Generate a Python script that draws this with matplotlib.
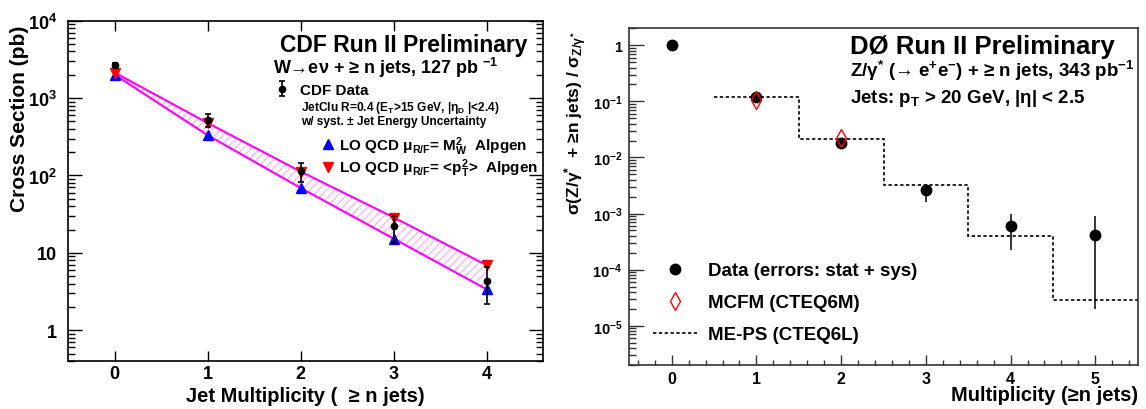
import numpy as np
import matplotlib
matplotlib.use('Agg')
import matplotlib.pyplot as plt
from matplotlib.ticker import LogLocator, FuncFormatter, NullFormatter, MultipleLocator
from matplotlib.lines import Line2D

plt.rcParams['font.family'] = ['Liberation Sans', 'DejaVu Sans']
plt.rcParams['font.weight'] = 'bold'
plt.rcParams['axes.labelweight'] = 'bold'
plt.rcParams['mathtext.fontset'] = 'custom'
plt.rcParams['mathtext.rm'] = 'Liberation Sans:bold'
plt.rcParams['mathtext.it'] = 'Liberation Sans:bold'
plt.rcParams['mathtext.bf'] = 'Liberation Sans:bold'
plt.rcParams['mathtext.sf'] = 'Liberation Sans:bold'
plt.rcParams['hatch.linewidth'] = 0.7

# CDF: W -> e nu + >= n jets, cross section (pb)
n_cdf = [0, 1, 2, 3, 4]
cdf_data = [2700, 515, 113, 22.3, 4.3]
cdf_err_lo = [150, 92, 30, 9.0, 2.1]
cdf_err_hi = [150, 115, 31, 7.7, 2.2]
alpgen_mw = [2000, 330, 68.7, 15.2, 3.36]
alpgen_pt = [2130, 475, 112, 28.6, 6.9]
cdf_yticks = [1, 10, 100, 1000, 10000]

# D0: Z/gamma* + >= n jets, ratio to inclusive
n_d0 = [0, 1, 2, 3, 4, 5]
d0_ratio = [1.0, 0.118, 0.018, 0.0026, 6.0e-4, 4.1e-4]
d0_err_lo = [0.0, 0.008, 0.003, 0.001, 3.8e-4, 3.9e-4]
d0_err_hi = [0.0, 0.008, 0.003, 0.0008, 4.0e-4, 5.0e-4]
n_mcfm = [1, 2]
mcfm = [0.105, 0.022]
meps_edges = [0.5, 1.5, 2.5, 3.5, 4.5, 5.5]
meps = [0.119, 0.021, 0.0032, 4.0e-4, 2.9e-5]
d0_yticks = [1e-5, 1e-4, 1e-3, 1e-2, 1e-1, 1]


def root_log_label(v, pos):
    e = int(round(np.log10(v)))
    if e == 0:
        return '1'
    if e == 1:
        return '10'
    return '$10^{%d}$' % e


fig = plt.figure(figsize=(11.46, 4.10), dpi=100)
W, H = 1146.0, 410.0
axL = fig.add_axes([68.3 / W, 1 - 362 / H, (542.7 - 68.3) / W, (362 - 21.7) / H])
axR = fig.add_axes([629.3 / W, 1 - 366 / H, (1137.7 - 629.3) / W, (366 - 29.3) / H])

# ---------------- left panel (CDF)
axL.fill_between(n_cdf, alpgen_mw, alpgen_pt, facecolor='none', edgecolor='#ffa0ff',
                 hatch='////', linewidth=0)
axL.plot(n_cdf, alpgen_mw, color='#ff00ff', lw=1.5)
axL.plot(n_cdf, alpgen_pt, color='#ff00ff', lw=1.5)
h_mw, = axL.plot(n_cdf, alpgen_mw, '^', color='#0000ff', ms=7, ls='none')
h_pt, = axL.plot(n_cdf, alpgen_pt, 'v', color='#ff0000', ms=7, ls='none')
h_cdf = axL.errorbar(n_cdf, cdf_data, yerr=[cdf_err_lo, cdf_err_hi], fmt='o', color='black',
                     ms=4.5, capsize=2.5, elinewidth=1.2, capthick=1.2)

axL.set_yscale('log')
axL.set_xlim(-0.5, 4.6)
axL.set_ylim(0.4, 1e4)
axL.set_xticks(n_cdf)
axL.set_yticks(cdf_yticks)
axL.yaxis.set_minor_locator(LogLocator(base=10, subs=np.arange(2, 10), numticks=10))
axL.yaxis.set_major_formatter(FuncFormatter(root_log_label))
axL.yaxis.set_minor_formatter(NullFormatter())
axL.tick_params(which='both', direction='in', top=True, right=True, labelsize=13, width=1)
axL.tick_params(axis='y', which='major', length=10, pad=8)
axL.tick_params(axis='y', which='minor', length=5)
axL.tick_params(axis='x', which='major', length=7, pad=3)
for s in axL.spines.values():
    s.set_linewidth(1.2)

axL.set_ylabel('Cross Section (pb)', fontsize=15)
axL.yaxis.set_label_coords(-0.083, 0.714)
axL.set_xlabel('Jet Multiplicity (  ≥ n jets)', fontsize=14.5)
axL.xaxis.set_label_coords(0.5, -0.072)

axL.text(0.967, 0.912, 'CDF Run II Preliminary', transform=axL.transAxes,
         ha='right', va='baseline', fontsize=16.5)
axL.text(0.4315, 0.845, 'W→eν + ≥ n jets, 127 pb $^{-1}$', transform=axL.transAxes,
         va='baseline', fontsize=13)
axL.text(0.49, 0.7376, 'JetClu R=0.4 (E$_{T}$>15 GeV, |η$_{D}$ |<2.4)', transform=axL.transAxes,
         va='baseline', fontsize=8.6)
axL.text(0.49, 0.6979, 'w/ syst. ± Jet Energy Uncertainty', transform=axL.transAxes,
         va='baseline', fontsize=8.6)

leg1 = axL.legend([h_cdf], ['CDF Data'], loc='upper left', bbox_to_anchor=(0.4336, 0.817),
                  frameon=False, fontsize=11, handlelength=1.0, handletextpad=0.7,
                  borderpad=0, borderaxespad=0)
axL.add_artist(leg1)
axL.legend([h_mw, h_pt], ['LO QCD μ$_{R/F}$= M$^{2}_{W}$  Alpgen', 'LO QCD μ$_{R/F}$= <p$^{2}_{T}$>  Alpgen'],
           loc='upper left', bbox_to_anchor=(0.535, 0.667), frameon=False, fontsize=11,
           handlelength=0.8, handletextpad=0.3, labelspacing=0.0, borderpad=0,
           borderaxespad=0, numpoints=1)

# ---------------- right panel (D0)
axR.stairs(meps, meps_edges, color='black', linestyle=(0, (2.0, 1.5)), linewidth=1.2,
           fill=False, baseline=None)
axR.errorbar(n_d0, d0_ratio, yerr=[d0_err_lo, d0_err_hi], fmt='none', ecolor='black',
             elinewidth=1.1)
h_dat, = axR.plot(n_d0, d0_ratio, 'o', color='black', ms=7.5, ls='none')
h_mcfm, = axR.plot(n_mcfm, mcfm, 'd', mfc='none', mec='#ff0000', mew=1.0, ms=9, ls='none')
h_meps = Line2D([], [], color='black', linestyle=(0, (2.0, 1.5)), linewidth=1.2)

axR.set_yscale('log')
axR.set_xlim(-0.5, 5.5)
axR.set_ylim(2e-6, 2)
axR.set_xticks(n_d0)
axR.set_yticks(d0_yticks)
axR.xaxis.set_minor_locator(MultipleLocator(0.2))
axR.yaxis.set_minor_locator(LogLocator(base=10, subs=np.arange(2, 10), numticks=10))
axR.yaxis.set_major_formatter(FuncFormatter(root_log_label))
axR.yaxis.set_minor_formatter(NullFormatter())
axR.tick_params(which='both', direction='in', labelsize=10.5, width=1, color='#333333')
axR.tick_params(axis='x', labelsize=11.5)
axR.tick_params(axis='y', which='major', length=11, pad=5)
axR.tick_params(axis='y', which='minor', length=5)
axR.tick_params(axis='x', which='major', length=7, pad=4)
axR.tick_params(axis='x', which='minor', length=3.6)
for s in axR.spines.values():
    s.set_linewidth(1.2)
    s.set_color('#333333')

axR.set_ylabel('σ(Z/γ$^{*}$  + ≥n jets) / σ$_{Z/γ^{*}}$', fontsize=12.5)
axR.yaxis.set_label_coords(-0.079, 0.72)
axR.set_xlabel('Multiplicity (≥n jets)', fontsize=14.5, loc='right')
axR.xaxis.set_label_coords(1.0, -0.058)

axR.text(0.434, 0.926, 'DØ Run II Preliminary', transform=axR.transAxes,
         va='baseline', fontsize=18.5)
axR.text(0.434, 0.8574, 'Z/γ$^{*}$ (→ e$^{+}$e$^{-}$) + ≥ n jets, 343 pb$^{-1}$',
         transform=axR.transAxes, va='baseline', fontsize=13.5)
axR.text(0.434, 0.780, 'Jets: p$_{T}$ > 20 GeV, |η| < 2.5', transform=axR.transAxes,
         va='baseline', fontsize=13.5)

axR.legend([h_dat, h_mcfm, h_meps],
           ['Data (errors: stat + sys)', 'MCFM (CTEQ6M)', 'ME-PS (CTEQ6L)'],
           loc='upper left', bbox_to_anchor=(0.046, 0.306), frameon=False, fontsize=13.5,
           handlelength=2.35, handletextpad=0.6, labelspacing=0.8, borderpad=0,
           borderaxespad=0, numpoints=1)

fig.savefig('out.png', dpi=100)
